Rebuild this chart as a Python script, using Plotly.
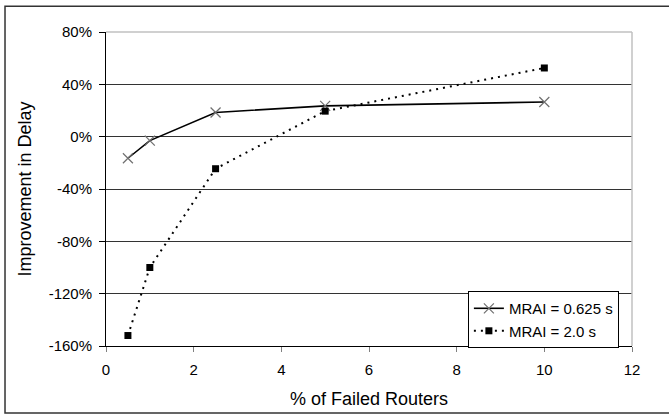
import plotly.graph_objects as go

failed_pct = [0.5, 1, 2.5, 5, 10]
mrai_0625 = [-16.5, -3, 18.5, 23.5, 26.5]
mrai_20 = [-152, -100, -24.5, 19.5, 52.5]
series_names = ["MRAI = 0.625 s", "MRAI = 2.0 s"]
y_ticks = [-160, -120, -80, -40, 0, 40, 80]
x_ticks = [0, 2, 4, 6, 8, 10, 12]

FONT = "Liberation Sans, Arial, sans-serif"

fig = go.Figure()
fig.add_trace(go.Scatter(
    x=failed_pct, y=mrai_0625, name=series_names[0], mode="lines+markers",
    line=dict(color="black", width=1.6),
    marker=dict(symbol="x-thin-open", size=10, color="#707070",
                line=dict(width=1.2, color="#707070")),
))
fig.add_trace(go.Scatter(
    x=failed_pct, y=mrai_20, name=series_names[1], mode="lines+markers",
    line=dict(color="black", width=2, dash="2px,5px"),
    marker=dict(symbol="square", size=7, color="black"),
))

fig.update_layout(
    width=669, height=414,
    margin=dict(l=106, r=37, t=32, b=68, autoexpand=False),
    paper_bgcolor="white", plot_bgcolor="white",
    font=dict(family=FONT, size=15, color="black"),
    showlegend=True,
    legend=dict(x=0.688, y=0.175, xanchor="left", yanchor="top",
                bordercolor="black", borderwidth=1, bgcolor="white",
                font=dict(size=15), tracegroupgap=0),
    xaxis=dict(range=[0, 12], tickvals=x_ticks,
               ticktext=[str(v) for v in x_ticks],
               showgrid=False, zeroline=False, automargin=False,
               showline=True, linecolor="black", linewidth=1,
               ticks="outside", ticklen=5, tickcolor="#808080",
               ticklabelstandoff=5,
               title=dict(text="% of Failed Routers", standoff=15)),
    yaxis=dict(range=[-160, 80], tickvals=y_ticks,
               ticktext=[f"{v}%" for v in y_ticks],
               showgrid=True, gridcolor="#333333", gridwidth=1,
               zeroline=False, automargin=False,
               showline=True, linecolor="black", linewidth=1,
               ticks="outside", ticklen=6, tickcolor="black",
               ticklabelstandoff=4,
               title=dict(text="Improvement in Delay", standoff=12)),
    shapes=[
        dict(type="line", xref="paper", yref="paper", x0=0, x1=1, y0=1, y1=1,
             line=dict(color="#c0c0c0", width=1.5)),
        dict(type="line", xref="paper", yref="paper", x0=1, x1=1, y0=0, y1=1,
             line=dict(color="#c0c0c0", width=1.5)),
        dict(type="rect", xref="paper", yref="paper", x0=-0.192, x1=1.2,
             y0=-0.213, y1=1.082, line=dict(color="#333333", width=1.5)),
    ],
)

fig.write_html("out.html")
